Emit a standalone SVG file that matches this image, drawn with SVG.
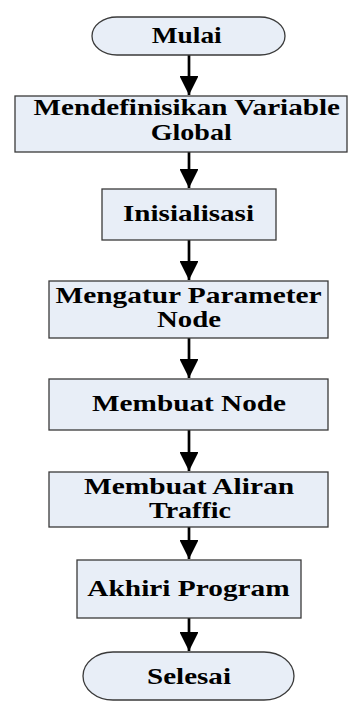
<svg xmlns="http://www.w3.org/2000/svg" width="353" height="702" viewBox="0 0 353 702">
<defs>
<style>
.box{fill:#e8eef7;stroke:#3a3a3a;stroke-width:1.3}
.t{font-family:"Liberation Serif","Times New Roman",serif;font-weight:bold;font-size:23px;fill:#000;text-anchor:middle}
.c{stroke:#000;stroke-width:2.7;fill:none}
.ah{fill:#000}
</style>
<marker id="arr" viewBox="0 0 10 10" refX="10" refY="5" markerWidth="7" markerHeight="7" markerUnits="strokeWidth" orient="auto">
<path d="M0,0 L10,5 L0,10 Z" class="ah"/>
</marker>
</defs>
<rect width="353" height="702" fill="#ffffff"/>
<g id="connectors">
<line class="c" x1="189" y1="55" x2="189" y2="95" marker-end="url(#arr)"/>
<line class="c" x1="189" y1="152" x2="189" y2="188" marker-end="url(#arr)"/>
<line class="c" x1="189" y1="240" x2="189" y2="280" marker-end="url(#arr)"/>
<line class="c" x1="189" y1="338" x2="189" y2="378" marker-end="url(#arr)"/>
<line class="c" x1="189" y1="430" x2="189" y2="471" marker-end="url(#arr)"/>
<line class="c" x1="189" y1="527" x2="189" y2="559" marker-end="url(#arr)"/>
<line class="c" x1="189" y1="618" x2="189" y2="651" marker-end="url(#arr)"/>
</g>
<g id="mulai">
<path class="box" d="M117,17 H260 A25,19 0 0 1 260,55 H117 A25,19 0 0 1 117,17 Z"/>
<text class="t" transform="translate(186.7,42.5) scale(1.191,1)">Mulai</text>
</g>
<g id="definisi">
<rect class="box" x="15" y="96" width="332" height="56"/>
<text class="t" transform="translate(186.7,115) scale(1.266,1)">Mendefinisikan Variable</text>
<text class="t" transform="translate(191.2,140) scale(1.219,1)">Global</text>
</g>
<g id="inisialisasi">
<rect class="box" x="102" y="189" width="174" height="51"/>
<text class="t" transform="translate(188.5,220.5) scale(1.265,1)">Inisialisasi</text>
</g>
<g id="parameter">
<rect class="box" x="49" y="281" width="279" height="57"/>
<text class="t" transform="translate(188.5,303) scale(1.278,1)">Mengatur Parameter</text>
<text class="t" transform="translate(189,327) scale(1.252,1)">Node</text>
</g>
<g id="membuat-node">
<rect class="box" x="49" y="379" width="279" height="51"/>
<text class="t" transform="translate(189,410.5) scale(1.271,1)">Membuat Node</text>
</g>
<g id="aliran">
<rect class="box" x="49" y="472" width="279" height="55"/>
<text class="t" transform="translate(189,494) scale(1.281,1)">Membuat Aliran</text>
<text class="t" transform="translate(190,518) scale(1.218,1)">Traffic</text>
</g>
<g id="akhiri">
<rect class="box" x="77" y="560" width="224" height="58"/>
<text class="t" transform="translate(188.5,595.5) scale(1.276,1)">Akhiri Program</text>
</g>
<g id="selesai">
<path class="box" d="M113,652 H264 A30,24 0 0 1 264,700 H113 A30,24 0 0 1 113,652 Z"/>
<text class="t" transform="translate(189,684) scale(1.264,1)">Selesai</text>
</g>
</svg>
